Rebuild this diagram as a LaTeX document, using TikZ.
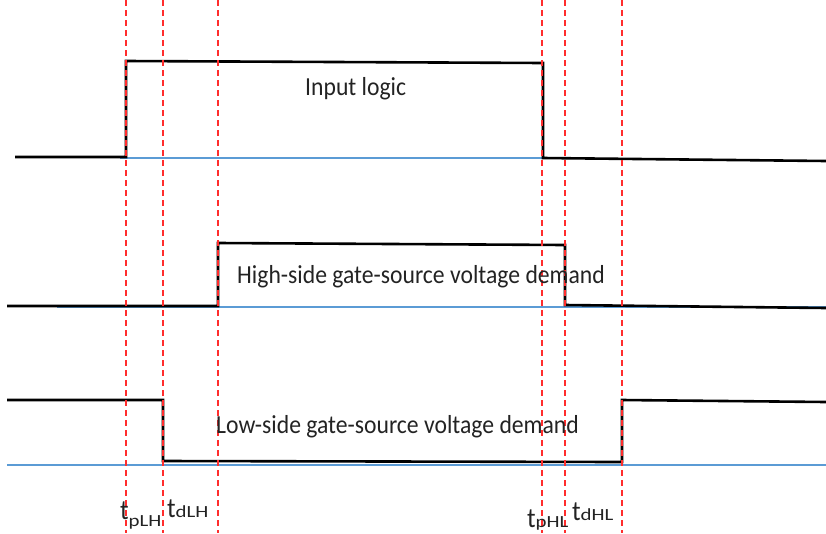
\documentclass[tikz,border=0pt]{standalone}
\usepackage{fontspec}
\setmainfont{Carlito}[FakeStretch=0.91]
\usepackage{tikz}
\usetikzlibrary{positioning}
\definecolor{traceblack}{RGB}{0,0,0}
\definecolor{refblue}{RGB}{91,155,213}
\definecolor{edgered}{RGB}{255,45,45}
\definecolor{textgrey}{RGB}{35,35,35}
\newcommand{\subfont}{\fontsize{17}{17}\selectfont}
\newcommand{\tlab}[2]{t\raisebox{#1}{\subfont\scalebox{1.35}[1]{#2}}}
\tikzset{
  trace/.style={draw=traceblack, line width=2.6pt, line join=miter},
  refline/.style={draw=refblue, line width=1.3pt},
  edgeline/.style={draw=edgered, line width=1.4pt, dash pattern=on 6pt off 4pt},
  sig/.style={font=\fontsize{26}{28}\selectfont, text=textgrey, inner sep=0pt, anchor=base west},
  tname/.style={font=\fontsize{28}{30}\selectfont, text=textgrey, inner sep=0pt, anchor=base west},
}
\begin{document}
\begin{tikzpicture}[x=1pt,y=-1pt]
  \useasboundingbox (0,0) rectangle (826,533);
  % reference levels
  \draw[refline] (120,158) -- (545,158);
  \draw[refline] (57,307) -- (826,307);
  \draw[refline] (7,465) -- (826,465);
  % input logic
  \draw[trace] (15,157) -- (126,157) -- (126,61) -- (543,63) -- (543,158) -- (826,161);
  % high-side demand
  \draw[trace] (7,306) -- (218,306) -- (218,243) -- (565,245) -- (565,305) -- (826,308);
  % low-side demand
  \draw[trace] (7,400) -- (163,400) -- (163,461) -- (622,462) -- (622,400) -- (826,402);
  % timing edges
  \foreach \x/\n in {126/e1,163/e2,218/e3,542/e4,565/e5,622/e6}{
    \coordinate (\n top) at (\x,0);
    \coordinate (\n bot) at (\x,533);
    \draw[edgeline] (\n top) -- (\n bot);
  }
  \node[sig] (inlogic) at (305,95) {Input logic};
  \node[sig] (hsdemand) at (237,283) {High-side gate-source voltage demand};
  \node[sig] (lsdemand) at (216,433) {Low-side gate-source voltage demand};
  \node[tname] (tplh) at (120,519) {\tlab{-7pt}{pLH}};
  \node[tname] (tdlh) at (167,517) {\tlab{0pt}{dLH}};
  \node[tname] (tphl) at (527,527) {\tlab{0pt}{pHL}};
  \node[tname] (tdhl) at (572,520) {\tlab{0pt}{dHL}};
\end{tikzpicture}
\end{document}
